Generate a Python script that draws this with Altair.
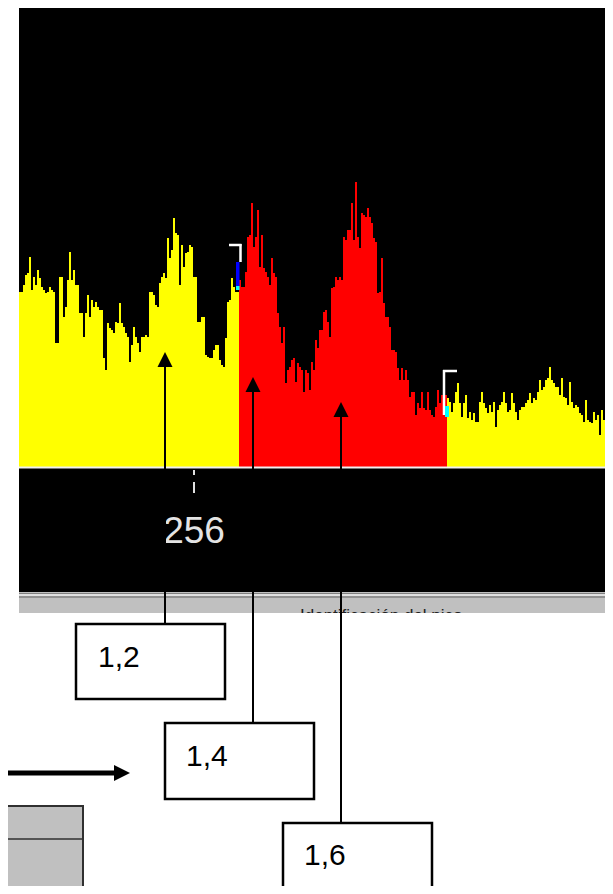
import altair as alt
import pandas as pd

# ---------------- data ----------------
# histogram counts (2 px bins), left yellow / red selection / right yellow
left_counts = [175, 175, 182, 192, 194, 210, 177, 190, 182, 197,
               189, 180, 177, 174, 175, 180, 177, 175, 124, 124,
               190, 190, 150, 160, 187, 215, 187, 197, 182, 182,
               154, 154, 130, 154, 172, 150, 167, 160, 165, 160,
               157, 157, 109, 97, 144, 139, 137, 134, 145, 144,
               164, 144, 140, 134, 130, 105, 122, 140, 130, 124,
               115, 130, 130, 132, 130, 175, 175, 172, 162, 160,
               184, 190, 194, 189, 229, 209, 217, 249, 234, 232,
               182, 222, 200, 214, 215, 222, 220, 190, 190, 145,
               145, 150, 150, 112, 110, 109, 109, 117, 122, 122,
               107, 102, 100, 129, 165, 167, 189, 180, 175, 175]
red_counts = [187, 180, 180, 195, 230, 232, 264, 220, 230, 257,
              200, 232, 199, 195, 190, 182, 209, 194, 190, 154,
              140, 124, 140, 84, 97, 100, 107, 109, 85, 104,
              100, 97, 75, 97, 94, 77, 105, 97, 127, 119,
              137, 137, 155, 157, 145, 130, 179, 180, 190, 187,
              190, 187, 230, 227, 237, 237, 264, 227, 285, 230,
              219, 254, 252, 250, 259, 250, 244, 229, 225, 174,
              175, 209, 164, 150, 150, 140, 117, 117, 115, 99,
              87, 99, 87, 97, 87, 70, 75, 75, 52, 64,
              59, 75, 59, 57, 75, 57, 52, 50, 60, 77,
              64, 72, 72, 72]
right_counts = [69, 65, 55, 64, 75, 84, 64, 50, 64, 72,
                49, 55, 47, 54, 45, 45, 65, 75, 64, 59,
                54, 62, 55, 65, 40, 57, 62, 65, 75, 64,
                55, 57, 74, 64, 55, 47, 57, 60, 60, 64,
                67, 74, 64, 69, 67, 75, 87, 77, 80, 87,
                89, 100, 87, 84, 80, 80, 72, 89, 70, 69,
                62, 85, 65, 59, 62, 60, 54, 52, 45, 67,
                47, 45, 44, 55, 47, 52, 32, 57, 47, 57]
region_colors = ["#ffff00", "#ff0000", "#ffff00"]

tick_bins = [87.5]
tick_labels = ["256"]

box_labels = ["1,2", "1,4", "1,6"]
band_text = ["Identificación del pico"]

# ---------------- tables ----------------
rows = []
start = 0
for r, (vals, col) in enumerate(zip([left_counts, red_counts, right_counts], region_colors)):
    for k, v in enumerate(vals):
        rows.append({"bin": start + k, "count": v, "col": col, "region": r})
    # closing step for the region
    rows.append({"bin": start + len(vals), "count": vals[-1], "col": col, "region": r})
    start += len(vals)
n = start
hist = pd.DataFrame(rows)

W, H = 597, 878
PXS = dict(domain=[8, 8 + W], range=[0, W], nice=False, zero=False)
PYS = dict(domain=[8, 8 + H], range=[0, H], nice=False, zero=False)
HXS = dict(domain=[0, n], range=[11, 599], nice=False, zero=False)
HYS = dict(domain=[0, 460], range=[459, -1], nice=False, zero=False)


def PX(f):
    return alt.X(f, type="quantitative", scale=alt.Scale(**PXS), axis=None)


def PY(f):
    return alt.Y(f, type="quantitative", scale=alt.Scale(**PYS), axis=None)


def rect_layer(rows):
    df = pd.DataFrame(rows, columns=["x", "x2", "y", "y2", "fill", "stroke", "sw"])
    return alt.Chart(df).mark_rect().encode(
        x=PX("x"), x2=alt.X2("x2"), y=PY("y"), y2=alt.Y2("y2"),
        fill=alt.Fill("fill:N", scale=None),
        stroke=alt.Stroke("stroke:N", scale=None),
        strokeWidth=alt.StrokeWidth("sw:Q", scale=None),
    )


def rule_layer(rows, dash=None):
    df = pd.DataFrame(rows, columns=["x", "y", "x2", "y2", "col", "sw"])
    kw = {"strokeCap": "butt"}
    if dash:
        kw["strokeDash"] = dash
    return alt.Chart(df).mark_rule(**kw).encode(
        x=PX("x"), y=PY("y"), x2=alt.X2("x2"), y2=alt.Y2("y2"),
        color=alt.Color("col:N", scale=None),
        strokeWidth=alt.StrokeWidth("sw:Q", scale=None),
    )


# background panel and grey status band
bg = rect_layer([
    (19, 610, 5, 592, "#000000", "#000000", 0),
    (19, 610, 592, 613, "#c0c0c0", "#c0c0c0", 0),
])
band_lines = rule_layer([
    (19, 593.5, 610, 593.5, "#808080", 1),
    (19, 595, 610, 595, "#ffffff", 1),
    (19, 597, 610, 597, "#606060", 1),
])
band_txt = alt.Chart(pd.DataFrame({"t": band_text, "x": [300], "y": [608]})).mark_text(
    align="left", baseline="top", font="Liberation Sans", fontSize=17, color="#202020"
).encode(x=PX("x"), y=PY("y"), text="t:N")
mask = rect_layer([(8, 613, 613, 624, "#ffffff", "#ffffff", 0)])

# histogram (step areas, one per region)
bars = alt.Chart(hist).mark_area(interpolate="step-after").encode(
    x=alt.X("bin:Q", scale=alt.Scale(**HXS), axis=None),
    y=alt.Y("count:Q", scale=alt.Scale(**HYS), axis=None, stack=None),
    detail="region:N",
    color=alt.Color("col:N", scale=None),
    opacity=alt.value(1),
)
baseline = rule_layer([(19, 467.5, 610, 467.5, "#f0f0f0", 2)])

ticks = pd.DataFrame({"b": tick_bins, "lab": tick_labels, "y": [470], "y2": [493], "ty": [543]})
tick = alt.Chart(ticks).mark_rule(strokeDash=[5, 7, 12, 7], color="#e0e0e0", strokeWidth=2).encode(
    x=alt.X("b:Q", scale=alt.Scale(**HXS), axis=None), y=PY("y"), y2=alt.Y2("y2"))
tick_lab = alt.Chart(ticks).mark_text(
    align="center", baseline="alphabetic", font="Liberation Sans", fontSize=37, color="#e4e4e4"
).encode(x=alt.X("b:Q", scale=alt.Scale(**HXS), axis=None), y=PY("ty"), text="lab:N")

# selection brackets
brackets = rule_layer([
    (229, 245, 241.5, 245, "#ffffff", 2.5),
    (240.5, 244, 240.5, 262, "#ffffff", 2.5),
    (443, 371, 457, 371, "#ffffff", 2.5),
    (444, 370, 444, 415, "#ffffff", 2.5),
])
bracket_fill = rect_layer([
    (236, 239.5, 262, 286, "#0000ff", "#0000ff", 0),
    (236, 239.5, 286, 290, "#00ffff", "#00ffff", 0),
    (445, 449, 406, 417, "#00ffff", "#00ffff", 0),
])

# annotation leaders and arrows
leaders = rule_layer([
    (165, 360, 165, 624, "#000000", 2),
    (253, 385, 253, 723, "#000000", 2),
    (341, 410, 341, 823, "#000000", 2),
    (8, 773, 116, 773, "#000000", 5),
])
heads_up = alt.Chart(pd.DataFrame({"x": [165, 253, 341], "y": [359.5, 384.5, 409.5]})).mark_point(
    shape="M0,-1L-1,1L1,1Z", filled=True, size=225, color="#000000", opacity=1
).encode(x=PX("x"), y=PY("y"))
head_right = alt.Chart(pd.DataFrame({"x": [122], "y": [773]})).mark_point(
    shape="M1,0L-1,-1L-1,1Z", filled=True, size=256, color="#000000", opacity=1
).encode(x=PX("x"), y=PY("y"))

boxes = rect_layer([
    (76, 225, 624, 699, "#ffffff", "#000000", 2.5),
    (165, 314, 723, 799, "#ffffff", "#000000", 2.5),
    (283, 432, 823, 910, "#ffffff", "#000000", 2.5),
    (2, 83, 806, 910, "#c0c0c0", "#303030", 2),
])
grey_line = rule_layer([(8, 839, 83, 839, "#303030", 1.5)])
labels = alt.Chart(pd.DataFrame({"t": box_labels, "x": [98, 186, 304], "y": [667, 766, 865]})).mark_text(
    align="left", baseline="alphabetic", font="Liberation Sans", fontSize=30, color="#000000"
).encode(x=PX("x"), y=PY("y"), text="t:N")

chart = alt.layer(
    bg, band_lines, band_txt, mask, bars, baseline, tick, tick_lab,
    brackets, bracket_fill, leaders, heads_up, head_right, boxes, grey_line, labels
).resolve_scale(x="independent", y="independent").properties(
    width=W, height=H, padding=0, autosize=alt.AutoSizeParams(type="none"),
    background="#ffffff"
).configure_view(stroke=None)

chart.save("out.html", embed_options={"renderer": "svg", "actions": False})
